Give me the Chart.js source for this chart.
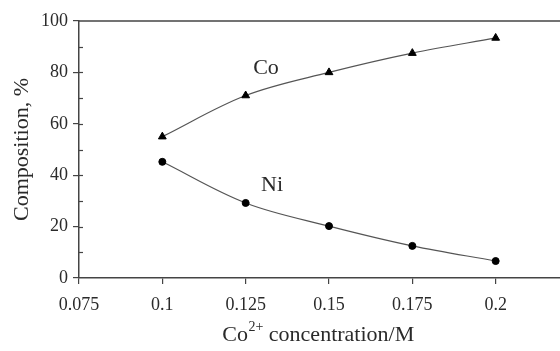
<!DOCTYPE html>
<html>
<head>
<meta charset="utf-8">
<script src="https://cdn.jsdelivr.net/npm/chart.js@4"></script>
<style>
  html,body{margin:0;padding:0;background:#fff;overflow:hidden;width:560px;height:351px}
  #wrap{width:600px;height:351px}
</style>
</head>
<body>
<div id="wrap"><canvas id="chart" width="600" height="351"></canvas></div>
<script>
/* ── DATA ─────────────────────────────────────────────── */
const concentration = [0.1, 0.125, 0.15, 0.175, 0.2];
const coValues = [55, 71, 80, 87.5, 93.4];
const niValues = [45.2, 29.2, 20.2, 12.5, 6.6];
const xTickLabels = ['0.075','0.1','0.125','0.15','0.175','0.2'];
const yTickLabels = ['0','20','40','60','80','100'];

const FONT = '"Liberation Serif", "Times New Roman", serif';
const INK = '#2a2a2a';

/* ── EXTRA DRAWING: frame top, inner ticks, labels, titles ── */
const decor = {
  id:'decor',
  afterDraw(chart){
    const {ctx, chartArea:a, scales:{x, y}} = chart;
    ctx.save();
    ctx.strokeStyle = '#444';
    ctx.lineWidth = 1.5;
    // top frame line
    ctx.beginPath(); ctx.moveTo(a.left, a.top); ctx.lineTo(a.right, a.top); ctx.stroke();
    // y ticks inside (major + minor)
    ctx.lineWidth = 1.2;
    for(let v=10; v<100; v+=10){
      const py = Math.round(y.getPixelForValue(v)) + .5;
      ctx.beginPath(); ctx.moveTo(a.left, py); ctx.lineTo(a.left + 4, py); ctx.stroke();
    }
    // series labels
    ctx.fillStyle = INK;
    ctx.font = '22px ' + FONT;
    ctx.textAlign = 'center'; ctx.textBaseline = 'middle';
    ctx.fillText('Co', x.getPixelForValue(0.1311), y.getPixelForValue(81.7));
    ctx.fillText('Ni', x.getPixelForValue(0.1329), y.getPixelForValue(36.2));
    // y title
    ctx.save();
    ctx.translate(22, (a.top + a.bottom) / 2);
    ctx.rotate(-Math.PI/2);
    ctx.font = '22px ' + FONT;
    ctx.fillText('Composition, %', 0, 0);
    ctx.restore();
    // x title with superscript
    const base = 'Co', sup = '2+', rest = ' concentration/M';
    ctx.font = '22px ' + FONT;
    const w1 = ctx.measureText(base).width, w3 = ctx.measureText(rest).width;
    ctx.font = '14px ' + FONT;
    const w2 = ctx.measureText(sup).width;
    let sx = 318 - (w1 + w2 + w3) / 2;
    const by = 341;
    ctx.textAlign = 'left'; ctx.textBaseline = 'alphabetic';
    ctx.font = '22px ' + FONT; ctx.fillText(base, sx, by); sx += w1;
    ctx.font = '14px ' + FONT; ctx.fillText(sup, sx + 0.5, by - 10); sx += w2 + 0.5;
    ctx.font = '22px ' + FONT; ctx.fillText(rest, sx, by);
    ctx.restore();
  }
};

/* ── CHART ────────────────────────────────────────────── */
new Chart(document.getElementById('chart'), {
  type:'line',
  data:{
    datasets:[
      { label:'Co', data:concentration.map((c,i)=>({x:c, y:coValues[i]})),
        borderColor:'#555', borderWidth:1.2, tension:.35,
        pointStyle:'triangle', pointRadius:4.5, pointBackgroundColor:'#000', pointBorderColor:'#000', pointBorderWidth:1 },
      { label:'Ni', data:concentration.map((c,i)=>({x:c, y:niValues[i]})),
        borderColor:'#555', borderWidth:1.2, tension:.35,
        pointStyle:'circle', pointRadius:3.5, pointBackgroundColor:'#000', pointBorderColor:'#000', pointBorderWidth:1 },
    ]
  },
  options:{
    responsive:false, animation:false,
    layout:{padding:{top:21, right:21, left:0, bottom:0}},
    plugins:{legend:{display:false}, tooltip:{enabled:false}},
    scales:{
      x:{
        type:'linear', min:0.075, max:0.225,
        afterFit:s=>{ s.height = 73; },
        border:{display:true, color:'#444', width:1.5},
        grid:{drawOnChartArea:false, drawTicks:true, tickLength:6, color:'#444', lineWidth:1.2},
        ticks:{stepSize:0.025, padding:10, color:INK, font:{family:FONT, size:18},
          callback:(v,i)=> xTickLabels[i] ?? ''}
      },
      y:{
        min:0, max:100,
        afterFit:s=>{ s.width = 79; },
        border:{display:true, color:'#444', width:1.5},
        grid:{drawOnChartArea:false, drawTicks:true, tickLength:6, color:'#444', lineWidth:1.2},
        ticks:{stepSize:20, padding:5, color:INK, font:{family:FONT, size:18},
          callback:(v,i)=> yTickLabels[i] ?? ''}
      }
    }
  },
  plugins:[decor]
});
</script>
</body>
</html>
